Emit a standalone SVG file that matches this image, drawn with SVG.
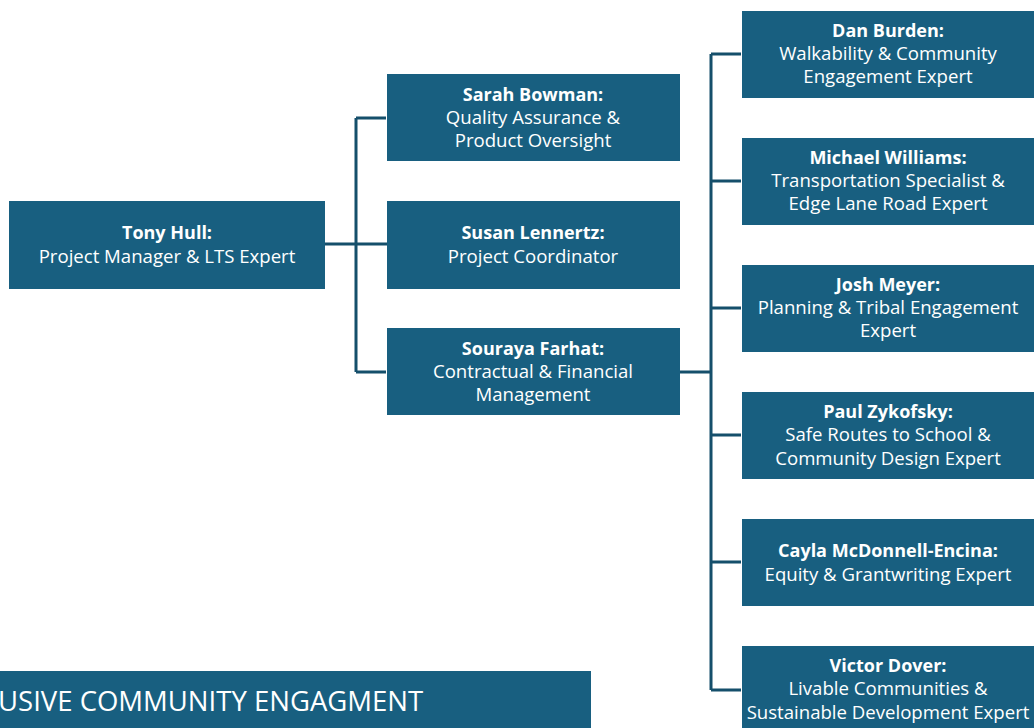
<svg xmlns="http://www.w3.org/2000/svg" width="1034" height="728" viewBox="0 0 1034 728">
<style>
.box{fill:#185f80;}
.t{font-family:"Open Sans","Noto Sans",sans-serif;font-size:18.6px;fill:#ffffff;text-anchor:middle;}
.b{font-weight:bold;font-size:18px;}
.c{stroke:#154f6b;stroke-width:3;fill:none;}
.ban{font-family:"Open Sans","Noto Sans",sans-serif;font-size:27.5px;fill:#ffffff;}
</style>
<rect width="1034" height="728" fill="#ffffff"/>
<g id="connectors">
<path class="c" d="M325 244H387M356 118V372M356 118H386M356 372H386"/>
<path class="c" d="M680 372H711M711 54V690M711 54H741M711 181H741M711 308H741M711 435H741M711 562H741M711 690H741"/>
</g>
<g id="tony"><rect class="box" x="9" y="201" width="316" height="88"/>
<text class="t b" x="167" y="239">Tony Hull:</text><text class="t" x="167" y="263">Project Manager &amp; LTS Expert</text></g>
<g id="sarah"><rect class="box" x="387" y="74" width="293" height="87"/>
<text class="t b" x="533" y="101">Sarah Bowman:</text><text class="t" x="533" y="124">Quality Assurance &amp;</text><text class="t" x="533" y="147">Product Oversight</text></g>
<g id="susan"><rect class="box" x="387" y="201" width="293" height="88"/>
<text class="t b" x="533" y="239">Susan Lennertz:</text><text class="t" x="533" y="263">Project Coordinator</text></g>
<g id="souraya"><rect class="box" x="387" y="328" width="293" height="87"/>
<text class="t b" x="533" y="355">Souraya Farhat:</text><text class="t" x="533" y="378">Contractual &amp; Financial</text><text class="t" x="533" y="401">Management</text></g>
<g id="dan"><rect class="box" x="742" y="11" width="292" height="87"/>
<text class="t b" x="888" y="37">Dan Burden:</text><text class="t" x="888" y="60">Walkability &amp; Community</text><text class="t" x="888" y="83">Engagement Expert</text></g>
<g id="michael"><rect class="box" x="742" y="138" width="292" height="87"/>
<text class="t b" x="888" y="164">Michael Williams:</text><text class="t" x="888" y="187">Transportation Specialist &amp;</text><text class="t" x="888" y="210">Edge Lane Road Expert</text></g>
<g id="josh"><rect class="box" x="742" y="265" width="292" height="87"/>
<text class="t b" x="888" y="291">Josh Meyer:</text><text class="t" x="888" y="314">Planning &amp; Tribal Engagement</text><text class="t" x="888" y="337">Expert</text></g>
<g id="paul"><rect class="box" x="742" y="392" width="292" height="87"/>
<text class="t b" x="888" y="418">Paul Zykofsky:</text><text class="t" x="888" y="441">Safe Routes to School &amp;</text><text class="t" x="888" y="465">Community Design Expert</text></g>
<g id="cayla"><rect class="box" x="742" y="519" width="292" height="87"/>
<text class="t b" x="888" y="557">Cayla McDonnell-Encina:</text><text class="t" x="888" y="581">Equity &amp; Grantwriting Expert</text></g>
<g id="victor"><rect class="box" x="742" y="646" width="292" height="82"/>
<text class="t b" x="888" y="672">Victor Dover:</text><text class="t" x="888" y="695">Livable Communities &amp;</text><text class="t" x="888" y="719">Sustainable Development Expert</text></g>
<g id="banner"><rect class="box" x="0" y="671" width="591" height="57"/>
<text class="ban" x="-2" y="711">USIVE COMMUNITY ENGAGMENT</text></g>
</svg>
